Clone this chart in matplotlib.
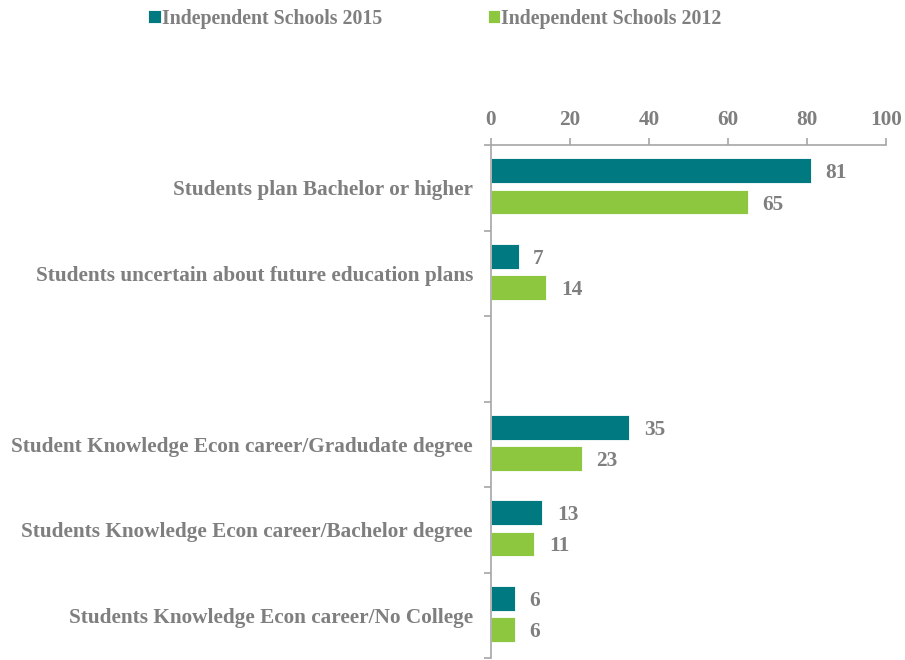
import numpy as np
import matplotlib.pyplot as plt

plt.rcParams['font.family'] = 'Liberation Serif'
plt.rcParams['font.weight'] = 'bold'

# Data ('' is the empty gap row)
categories = ['Students plan Bachelor or higher',
              'Students uncertain about future education plans',
              '',
              'Student Knowledge Econ career/Gradudate degree',
              'Students Knowledge Econ career/Bachelor degree',
              'Students Knowledge Econ career/No College']
values_2015 = [81, 7, None, 35, 13, 6]
values_2012 = [65, 14, None, 23, 11, 6]
series_names = ['Independent Schools 2015', 'Independent Schools 2012']

colors = ['#007A80', '#8DC63F']
gray = '#7F7F7F'
axis_gray = '#A6A6A6'
fs = 15.3

fig = plt.figure(figsize=(9.05, 6.6), dpi=100)
ax = fig.add_axes([0.5425, 0.003, 0.9790 - 0.5425, 0.780 - 0.003])

y = np.arange(len(categories))
bar_h = 0.29
offs = [-0.2, 0.165]

handles = []
for vals, off, color, name in zip([values_2015, values_2012], offs, colors, series_names):
    idx = [i for i, v in enumerate(vals) if v is not None]
    v = [vals[i] for i in idx]
    bars = ax.barh(y[idx] + off, v, height=bar_h, color=color, edgecolor='white',
                   linewidth=0.6, label=name)
    handles.append(bars)
    for i, val in zip(idx, v):
        ax.text(val + 3.7, y[i] + off, str(val), va='center_baseline', ha='left',
                color=gray, fontsize=fs, fontweight='bold')

ax.set_xlim(0, 100)
ax.set_ylim(len(categories) - 0.5, -0.5)
ax.xaxis.tick_top()
ax.set_xticks(np.arange(0, 101, 20))
ax.tick_params(axis='x', colors=axis_gray, labelcolor=gray, labelsize=fs,
               direction='out', length=5, width=1.2, pad=6)

# category labels at centers, tick marks at category boundaries
ax.set_yticks(y)
ax.set_yticklabels(categories)
ax.set_yticks(np.arange(len(categories) + 1) - 0.5, minor=True)
ax.tick_params(axis='y', which='major', length=0, pad=13, labelsize=fs, labelcolor=gray)
ax.tick_params(axis='y', which='minor', length=5, width=1.2, colors=axis_gray, direction='out')

for s in ['right', 'bottom']:
    ax.spines[s].set_visible(False)
for s in ['left', 'top']:
    ax.spines[s].set_color(axis_gray)
    ax.spines[s].set_linewidth(1.2)

fig.legend(handles=handles, loc='upper left', bbox_to_anchor=(0.144, 1.014),
           ncol=2, frameon=False, handlelength=0.62, handleheight=0.62,
           handletextpad=0.05, columnspacing=5.35,
           prop={'family': 'Liberation Serif', 'weight': 'bold', 'size': 14.3},
           labelcolor=gray)

fig.savefig('out.png', dpi=100)
